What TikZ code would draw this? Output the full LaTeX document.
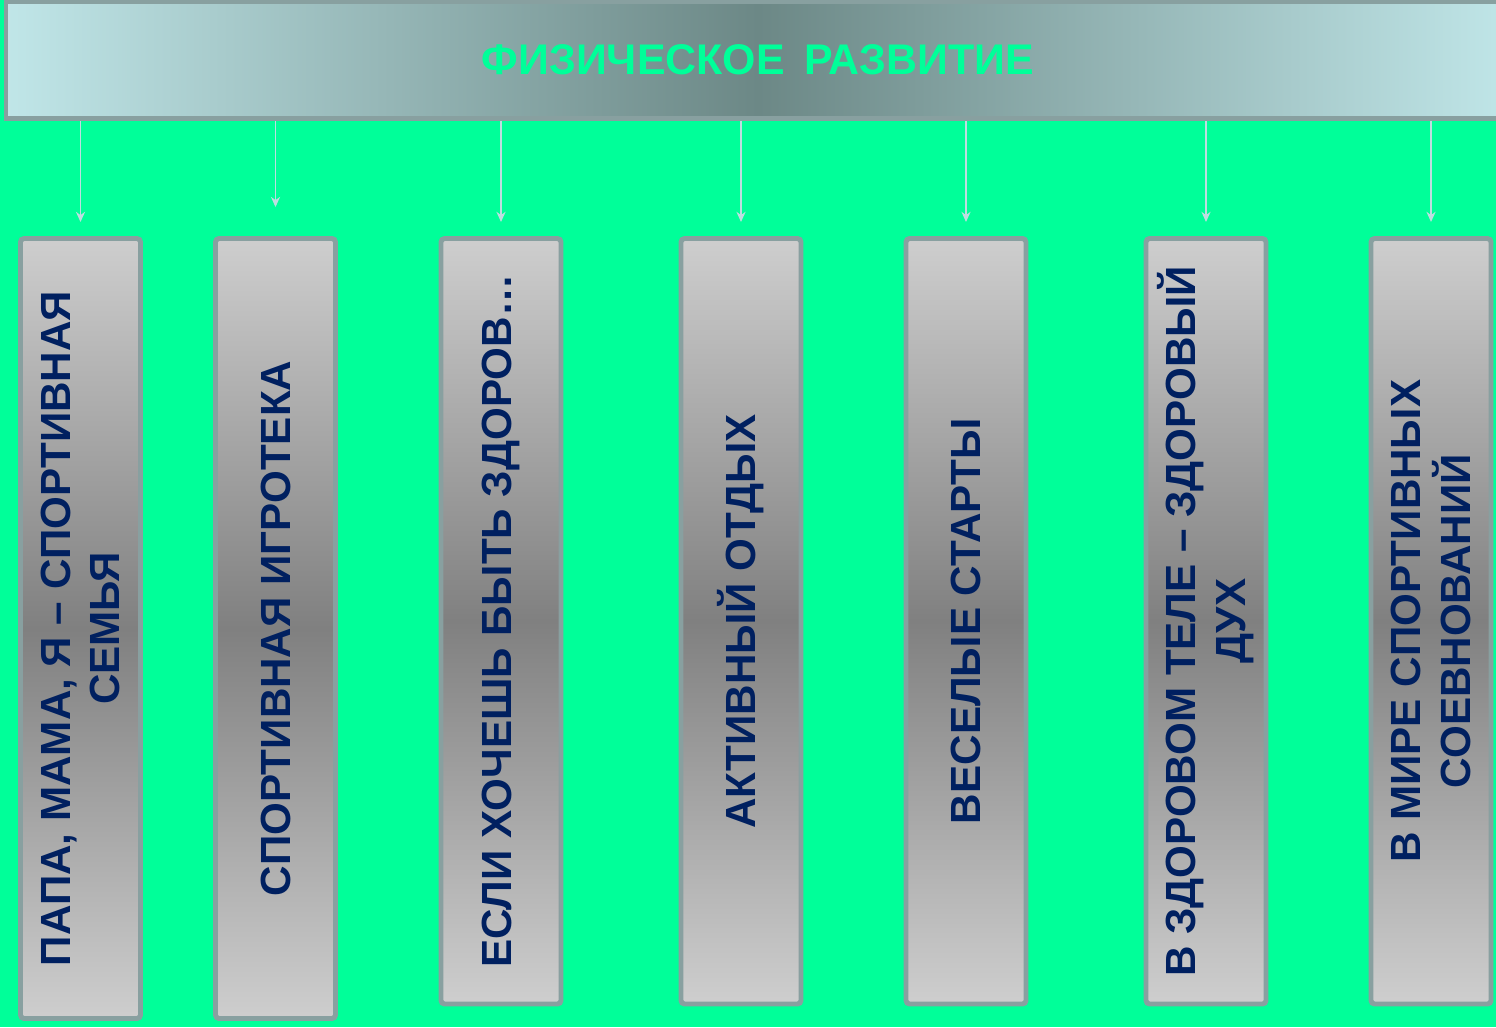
\documentclass[tikz,border=0pt]{standalone}
\usepackage{fontspec}
\setmainfont{Liberation Sans}
\usetikzlibrary{arrows.meta}
\definecolor{pagegreen}{RGB}{0,255,153}
\definecolor{rimgrey}{RGB}{136,160,160}
\definecolor{ink}{RGB}{0,32,96}
\definecolor{feedgrey}{RGB}{190,221,224}
\definecolor{paleteal}{RGB}{192,230,232}
\definecolor{darkteal}{RGB}{108,136,134}
\definecolor{lightsilver}{RGB}{206,206,206}
\definecolor{darksilver}{RGB}{128,128,128}

\begin{document}
\begin{tikzpicture}[scale=1.0,
  banner/.style={draw=rimgrey, line width=1.4pt, left color=paleteal, right color=paleteal,
    middle color=darkteal, minimum width=15.04cm, minimum height=1.17cm, inner sep=0pt,
    text=pagegreen, font=\fontsize{12.2}{14}\selectfont\bfseries},
  card/.style={draw=rimgrey, line width=1.4pt, rounded corners=1pt, top color=lightsilver,
    bottom color=lightsilver, middle color=darksilver, minimum width=1.2cm, inner sep=0pt},
  cardtext/.style={rotate=90, align=center, text=ink, inner sep=0pt,
    font=\fontsize{12}{14.2}\selectfont\bfseries},
  feed/.style={draw=feedgrey, line width=0.42pt, -{Stealth[length=2.9pt,width=2.6pt]}}]
\useasboundingbox (0,0) rectangle (14.96,10.27);
\clip (0,0) rectangle (14.96,10.27);
\fill[pagegreen] (0,0) rectangle (14.96,10.27);
\node[banner] (top) at (7.58,9.67) {ФИЗИЧЕСКОЕ\hspace{0.45em}РАЗВИТИЕ};
  \node[card, minimum height=7.8cm] (b1) at (0.805,3.985) {};
  \node[card, minimum height=7.8cm] (b2) at (2.755,3.985) {};
  \node[card, minimum height=7.655cm] (b3) at (5.01,4.0575) {};
  \node[card, minimum height=7.655cm] (b4) at (7.41,4.0575) {};
  \node[card, minimum height=7.655cm] (b5) at (9.66,4.0575) {};
  \node[card, minimum height=7.655cm] (b6) at (12.06,4.0575) {};
  \node[card, minimum height=7.655cm] (b7) at (14.31,4.0575) {};
  \node[cardtext] (t1) at (b1) {ПАПА, МАМА, Я – СПОРТИВНАЯ\\СЕМЬЯ};
  \node[cardtext] (t2) at (b2) {СПОРТИВНАЯ ИГРОТЕКА};
  \node[cardtext] (t3) at (b3) {ЕСЛИ ХОЧЕШЬ БЫТЬ ЗДОРОВ…};
  \node[cardtext] (t4) at (b4) {АКТИВНЫЙ ОТДЫХ};
  \node[cardtext] (t5) at (b5) {ВЕСЕЛЫЕ СТАРТЫ};
  \node[cardtext] (t6) at (b6) {В ЗДОРОВОМ ТЕЛЕ – ЗДОРОВЫЙ\\ДУХ};
  \node[cardtext] (t7) at (b7) {В МИРЕ СПОРТИВНЫХ\\СОЕВНОВАНИЙ};
  %\draw[red] (top.south) -- (b4.north);
  \draw[feed, shorten >=4pt] (top.south -| b1.north) -- (b1.north);
  \draw[feed, shorten >=8.25pt] (top.south -| b2.north) -- (b2.north);
  \draw[feed, shorten >=4pt] (top.south -| b3.north) -- (b3.north);
  \draw[feed, shorten >=4pt] (top.south -| b4.north) -- (b4.north);
  \draw[feed, shorten >=4pt] (top.south -| b5.north) -- (b5.north);
  \draw[feed, shorten >=4pt] (top.south -| b6.north) -- (b6.north);
  \draw[feed, shorten >=4pt] (top.south -| b7.north) -- (b7.north);
\end{tikzpicture}
\end{document}
